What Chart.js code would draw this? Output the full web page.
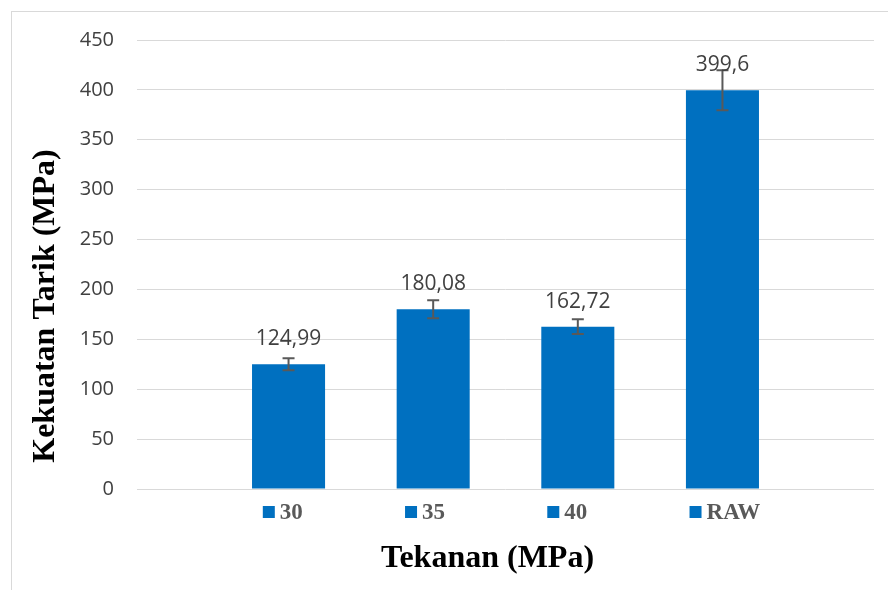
<!DOCTYPE html>
<html>
<head>
<meta charset="utf-8">
<script src="https://cdn.jsdelivr.net/npm/chart.js@4.4.1/dist/chart.umd.min.js"></script>
<style>
  html, body { margin: 0; padding: 0; background: #fff; overflow: hidden; }
  #wrap { width: 888px; height: 590px; }
</style>
</head>
<body>
<div id="wrap"><canvas id="chart" width="888" height="590"></canvas></div>
<script>
// data
const categories = [""];
const seriesNames = ["30", "35", "40", "RAW"];
const tensileValues = [124.99, 180.08, 162.72, 399.6];
const errorValues = [6, 9, 7.5, 20];
const yTicks = [0, 50, 100, 150, 200, 250, 300, 350, 400, 450];

const barBlue = "#0070C0";
const serif = "'Liberation Serif', 'Times New Roman', serif";
const sans = "'Open Sans', 'DejaVu Sans', sans-serif";

// error bars + value labels above each bar
const errorBars = {
  id: "errorBars",
  afterDatasetsDraw(chart) {
    const ctx = chart.ctx;
    const y = chart.scales.y;
    ctx.save();
    chart.data.datasets.forEach((ds, i) => {
      const bar = chart.getDatasetMeta(i).data[0];
      const v = ds.data[0];
      const e = errorValues[i];
      const yTop = y.getPixelForValue(v + e);
      const yBot = y.getPixelForValue(v - e);
      ctx.strokeStyle = "#595959";
      ctx.lineWidth = 2;
      ctx.beginPath();
      ctx.moveTo(bar.x, yTop); ctx.lineTo(bar.x, yBot);
      ctx.moveTo(bar.x - 6, yTop); ctx.lineTo(bar.x + 6, yTop);
      ctx.moveTo(bar.x - 6, yBot); ctx.lineTo(bar.x + 6, yBot);
      ctx.stroke();

      ctx.fillStyle = "#404040";
      ctx.font = "21px " + sans;
      ctx.textAlign = "center";
      ctx.textBaseline = "middle";
      ctx.fillText(String(v).replace(".", ","), bar.x, bar.y - 25);
    });
    ctx.restore();
  }
};

// frame, excel-style legend row and axis titles
const decor = {
  id: "decor",
  beforeDraw(chart) {
    const ctx = chart.ctx;
    ctx.save();
    ctx.strokeStyle = "#d9d9d9";
    ctx.lineWidth = 1;
    ctx.strokeRect(11.5, 11.5, chart.width, chart.height);
    ctx.restore();
  },
  afterDraw(chart) {
    const ctx = chart.ctx;
    const area = chart.chartArea;
    const cx = (area.left + area.right) / 2;
    ctx.save();

    // legend
    ctx.font = "bold 23px " + serif;
    ctx.textBaseline = "middle";
    ctx.textAlign = "left";
    const step = area.width * 0.193;
    const box = 12, gap = 5;
    const lastW = box + gap + ctx.measureText(seriesNames[seriesNames.length - 1]).width;
    const blockW = step * (seriesNames.length - 1) + lastW;
    let x = cx - blockW / 2 + 6;
    const ly = area.bottom + 23;
    seriesNames.forEach((name) => {
      ctx.fillStyle = barBlue;
      ctx.fillRect(x, ly - box / 2, box, box);
      ctx.fillStyle = "#595959";
      ctx.fillText(name, x + box + gap, ly + 1);
      x += step;
    });

    // axis titles
    ctx.fillStyle = "#000";
    ctx.font = "bold 32px " + serif;
    ctx.textAlign = "center";
    ctx.fillText("Tekanan (MPa)", cx - 18, area.bottom + 70);

    ctx.translate(46, area.bottom - 183);
    ctx.rotate(-Math.PI / 2);
    ctx.fillText("Kekuatan Tarik (MPa)", 0, 0);
    ctx.restore();
  }
};

new Chart(document.getElementById("chart"), {
  type: "bar",
  data: {
    labels: categories,
    datasets: seriesNames.map((name, i) => ({
      label: name,
      data: [tensileValues[i]],
      backgroundColor: barBlue,
      barPercentage: 0.505,
      categoryPercentage: 0.785
    }))
  },
  options: {
    responsive: false,
    animation: false,
    layout: { padding: { top: 40, right: 14, bottom: 0, left: 0 } },
    plugins: {
      legend: { display: false },
      tooltip: { enabled: false }
    },
    scales: {
      x: {
        grid: { display: false },
        border: { display: false },
        ticks: { display: false },
        afterFit: (s) => { s.height = 101; }
      },
      y: {
        min: 0,
        max: 450,
        afterBuildTicks: (s) => { s.ticks = yTicks.map((v) => ({ value: v })); },
        ticks: { color: "#404040", font: { family: sans, size: 20 }, padding: 23 },
        grid: { color: "#d9d9d9", lineWidth: 1, drawTicks: false },
        border: { display: false },
        afterFit: (s) => { s.width = 137; }
      }
    }
  },
  plugins: [errorBars, decor]
});
</script>
</body>
</html>
